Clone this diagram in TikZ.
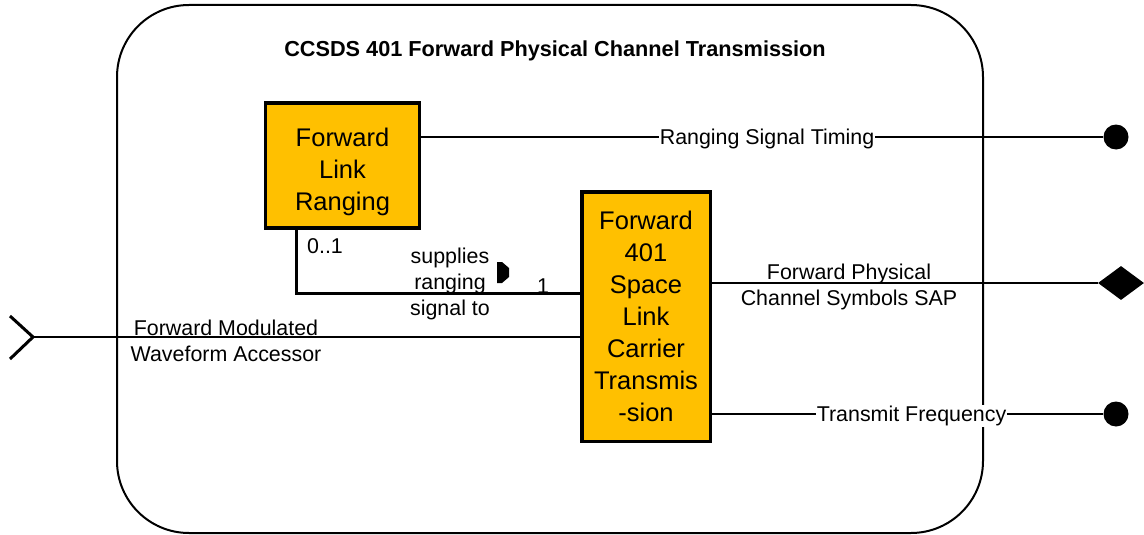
\documentclass[tikz,border=0pt]{standalone}
\usepackage{fontspec}
\setmainfont{Liberation Sans}
\usetikzlibrary{shapes.geometric}
\definecolor{blockorange}{RGB}{255,192,0}

\begin{document}
\begin{tikzpicture}[x=1pt,y=-1pt,
	block/.style={draw,fill=blockorange,line width=3.5pt,align=center,inner sep=0pt,font=\fontsize{25.5}{32}\selectfont},
	lbl/.style={align=center,inner sep=1pt,yshift=-2pt,font=\fontsize{21.4}{26}\selectfont},
	port/.style={circle,fill,inner sep=0pt,minimum size=25pt},
	conn/.style={line width=1.5pt}]
	\useasboundingbox (0,0) rectangle (1144,535);
	% outer component
	\draw[line width=2pt,rounded corners=72pt] (117,5) rectangle (983,533);
	\node[font=\fontsize{21.7}{24}\selectfont\bfseries] (title) at (555,51) {CCSDS 401 Forward Physical Channel Transmission};

	\node[block,minimum width=154pt,minimum height=125pt] (FLR) at (342.5,165.5) {\rule{0pt}{31pt}Forward\\Link\\Ranging};
	\node[block,minimum width=128.5pt,minimum height=249.5pt] (F401) at (646,316.5) {Forward\\401\\Space\\Link\\Carrier\\Transmis\\-sion};

	% ports
	\node[port] (rst) at (1116,137) {};
	\node[diamond,fill,inner sep=0pt,minimum width=46pt,minimum height=34pt] (sap) at (1121,283) {};
	\node[port] (txf) at (1116,414) {};
	\coordinate (wfa) at (33,337);
	\draw[line width=3pt] (10,316) -- (wfa) -- (10,359);

	\path[conn,draw] (FLR.east |- rst) -- node[lbl,fill=white,pos=0.507] {Ranging Signal Timing} (rst.west)
	(F401.east |- sap) -- (sap.west)
	(F401.east |- txf) -- node[lbl,fill=white,pos=0.51] {Transmit Frequency} (txf.west)
	(wfa) -- (F401.west |- wfa);
	\node[lbl] (sapl) at (849,285) {Forward Physical\\Channel Symbols SAP};
	\node[lbl] (wfal) at (226,339) {Forward Modulated\\Waveform Accessor};

	% association
	\coordinate (bend) at (296,293);
	\draw[line width=3pt] (FLR.south -| bend) -- (bend) -- (F401.west |- bend);
	\node[lbl,fill=white,inner sep=3pt,minimum width=50pt,minimum height=25pt] (mult0) at (325,244) {0..1};
	\node[lbl] (mult1) at (543,284) {1};
	\node[lbl] (assoc) at (450,282) {supplies\\ranging\\signal to};
	\fill (497,262) -- (502,262) -- (509,268) -- (509,277) -- (502,283) -- (497,283) -- cycle;
\end{tikzpicture}
\end{document}
